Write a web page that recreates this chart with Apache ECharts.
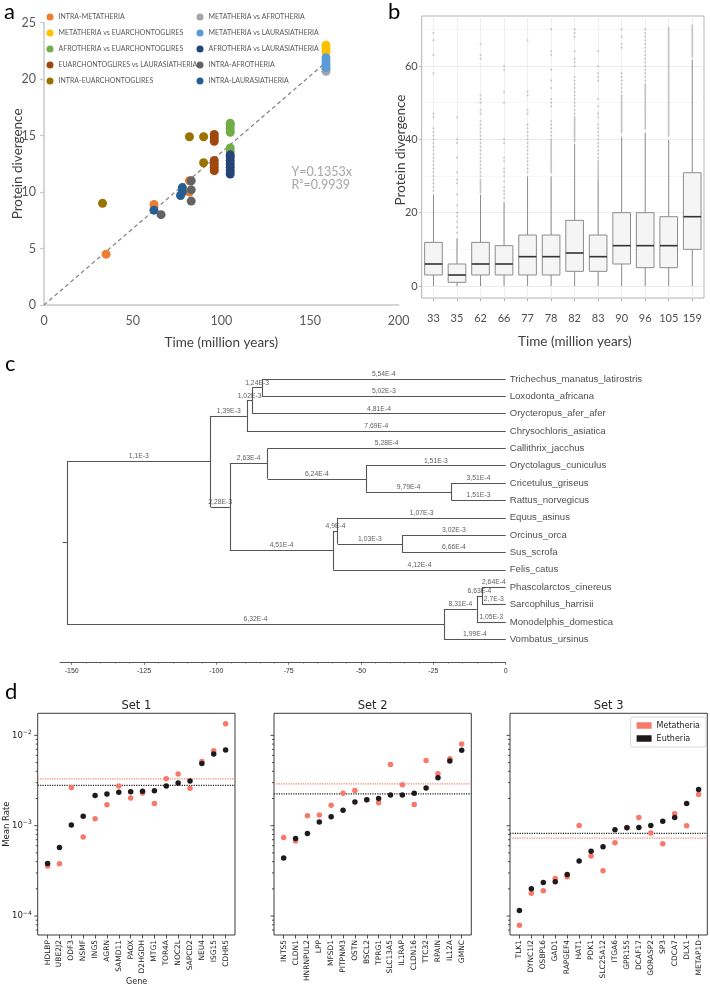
<!DOCTYPE html>
<html><head><meta charset="utf-8">
<script src="https://cdn.jsdelivr.net/npm/echarts@6/dist/echarts.min.js"></script>
<style>html,body{margin:0;padding:0;background:#fff}#c{width:710px;height:986px}</style>
</head><body><div id="c"></div>
<script>
// ================= Panel a data =================
const aNames = ['INTRA-METATHERIA','METATHERIA vs AFROTHERIA','METATHERIA vs EUARCHONTOGLIRES','METATHERIA vs LAURASIATHERIA','AFROTHERIA vs EUARCHONTOGLIRES','AFROTHERIA vs LAURASIATHERIA','EUARCHONTOGLIRES vs LAURASIATHERIA','INTRA-AFROTHERIA','INTRA-EUARCHONTOGLIRES','INTRA-LAURASIATHERIA'];
const aColors = ['#ED7D31','#A5A5A5','#FFC000','#5B9BD5','#70AD47','#264478','#9E480E','#636363','#997300','#255E91'];
const aIntraMetatheria = [[35,4.5],[62,8.9],[82,11.0],[82,10.0]];
const aMetaVsAfro = [[159,20.7],[159,20.9]];
const aMetaVsEuarch = [[159,22.4],[159,22.7],[159,23.0]];
const aMetaVsLaur = [[159,21.0],[159,21.3],[159,21.6],[159,21.9]];
const aAfroVsEuarch = [[105,15.3],[105,15.6],[105,15.9],[105,16.1],[105,13.6],[105,13.9]];
const aAfroVsLaur = [[105,11.6],[105,11.9],[105,12.2],[105,12.5],[105,12.8],[105,13.1],[105,13.3]];
const aEuarchVsLaur = [[96,14.5],[96,14.8],[96,15.1],[96,11.9],[96,12.2],[96,12.5],[96,12.8]];
const aIntraAfro = [[66,8.0],[83,9.2],[83,10.2],[83,11.0]];
const aIntraEuarch = [[33,9.0],[82,14.9],[90,14.9],[90,12.6]];
const aIntraLaur = [[62,8.4],[77,9.7],[78,10.0],[78,10.4]];
const aTrend = [[0,0],[159,21.5]];
const aEquation = 'Y=0.1353x';
const aR2 = 'R²=0.9939';

// ================= Panel b data =================
const bCategories = ['33','35','62','66','77','78','82','83','90','96','105','159'];
const bMin    = [0,0,0,0,0,0,0,0,0,0,0,0];
const bQ1     = [3.0,1.0,3.0,3.0,3.0,3.0,4.0,4.0,6.0,5.0,5.0,10.0];
const bMedian = [6.0,3.0,6.0,6.0,8.0,8.0,9.0,8.0,11.0,11.0,11.0,18.9];
const bQ3     = [11.9,6.0,11.9,11.0,13.9,13.9,17.9,13.9,20.0,20.0,18.9,30.9];
const bMax    = [24.9,13.0,24.9,22.9,29.9,29.9,38.8,28.8,40.7,41.8,39.8,61.7];
const bOut33  = [69,67,63,58,47,46,43,42,41,40,39,38,37,36,35,34,33,32,31,30,29,28,27,26];
const bOut35  = [46,40,39,35,31,29,28,25,22,20,19,17.5,16,14.5];
const bOut62  = [66,63,62,52,51,50,48,47,45,44,43,42,41,40,39,38,37,36,35,34,33,32,31,30,29,28.5,28,27.5,27,26.5,26,25.5];
const bOut66  = [60,59,53,50,40,39,35,34,32,31,30,28.5,27,26,25,24];
const bOut77  = [67,53,52,48,47,44,43,42,41,40,39,38,37,36,35,34,33,32,31];
const bOut78  = [70,64,63,59,56,54,51,50,49,45,44,43,42,41,40,39.5,39,38.5,38,37.5,37,36.5,36,35.5,35,34.5,34,33.5,33,32.5,32,31.5,31];
const bOut82  = [70,69,68,64,62,61,60,57,56,55,54,53,52,51,50,49,48,47,46,45.5,45,44.5,44,43.5,43,42.5,42,41.5,41,40.5,40,39.5];
const bOut83  = [64,60,58,57,56,51,49,47,46,44,43,42,41,40,39,38,37,36,35,34,33.5,33,32.5,32,31.5,31,30.5,30,29.5,29];
const bOut90  = [70,68,66,65,58,57,56,55,54,53,52,51.5,51,50.5,50,49.5,49,48.5,48,47.5,47,46.5,46,45.5,45,44.5,44,43.5,43,42.5,42];
const bOut96  = [70,69,68,67,66,65,64,63,62,61,60,59,58,57,56,55,54.5,54,53.5,53,52.5,52,51.5,51,50.5,50,49.5,49,48.5,48,47.5,47,46.5,46,45.5,45,44.5,44,43.5,43];
const bOut105 = [70.5,70,69.5,69,68.5,68,67.5,67,66.5,66,65.5,65,64.5,64,63.5,63,62.5,62,61.5,61,60.5,60,59.5,59,58.5,58,57.5,57,56.5,56,55.5,55,54.5,54,53.5,53,52.5,52,51.5,51,50.5,50,49.5,49,48.5,48,47.5,47,46.5,46,45.5,45,44.5,44,43.5,43,42.5,42,41.5,41];
const bOut159 = [71,70.5,70,69.5,69,68.5,68,67.5,67,66.5,66,65.5,65,64.5,64,63.5,63,62.5];
const bOutliers = [bOut33,bOut35,bOut62,bOut66,bOut77,bOut78,bOut82,bOut83,bOut90,bOut96,bOut105,bOut159];

// ================= Panel c data (tree) =================
const treeIds = ['root','Eutheria','Afrotheria','AfA','AfB','Trichechus_manatus_latirostris','Loxodonta_africana','Orycteropus_afer_afer','Chrysochloris_asiatica','Boreoeutheria','Euarchontoglires','Callithrix_jacchus','Glires','Oryctolagus_cuniculus','Muridae','Cricetulus_griseus','Rattus_norvegicus','Laurasiatheria','LA','Equus_asinus','Cetartiodactyla','Orcinus_orca','Sus_scrofa','Felis_catus','Marsupialia','MA','MB','Phascolarctos_cinereus','Sarcophilus_harrisii','Monodelphis_domestica','Vombatus_ursinus'];
const treeParents = [null,'root','Eutheria','Afrotheria','AfA','AfB','AfB','AfA','Afrotheria','Eutheria','Boreoeutheria','Euarchontoglires','Euarchontoglires','Glires','Glires','Muridae','Muridae','Boreoeutheria','Laurasiatheria','LA','LA','Cetartiodactyla','Cetartiodactyla','Laurasiatheria','root','Marsupialia','MA','MB','MB','MA','Marsupialia'];
const treeAges = [-151.7,-102.0,-89.5,-87.6,-84.3,0,0,0,0,-95.4,-82.3,0,-48.3,0,-18.8,0,0,-59.6,-58.1,0,-35.8,0,0,0,-21.3,-10.0,-8.2,0,0,0,0];
const treeBranchLabels = ['','1,1E-3','1,39E-3','1,02E-3','1,24E-3','5,54E-4','5,02E-3','4,81E-4','7,69E-4','2,28E-3','2,63E-4','5,28E-4','6,24E-4','1,51E-3','9,79E-4','3,51E-4','1,51E-3','4,51E-4','4,9E-4','1,07E-3','1,03E-3','3,02E-3','6,66E-4','4,12E-4','6,32E-4','8,31E-4','6,63E-4','2,64E-4','2,7E-3','1,05E-3','1,99E-4'];
const treeRootStemAge = -153.2;

// ================= Panel d data =================
const set1Genes = ['HDLBP','UBE2J2','ODF3','NSMF','ING5','AGRN','SAMD11','PAOX','D2HGDH','MTG1','TOR4A','NOC2L','SAPCD2','NEU4','ISG15','CDHR5'];
const set1Eutheria = [3.82e-4,5.74e-4,1.015e-3,1.27e-3,2.16e-3,2.24e-3,2.34e-3,2.38e-3,2.40e-3,2.44e-3,2.75e-3,2.96e-3,3.12e-3,4.89e-3,6.21e-3,6.88e-3];
const set1Metatheria = [3.57e-4,3.79e-4,2.65e-3,7.48e-4,1.19e-3,1.71e-3,2.75e-3,2.02e-3,2.30e-3,1.76e-3,3.31e-3,3.73e-3,2.59e-3,5.15e-3,6.76e-3,1.345e-2];
const set1Means = {Metatheria:3.30e-3, Eutheria:2.79e-3};
const set2Genes = ['INTS5','CLDN1','HNRNPUL2','LPP','MFSD1','PITPNM3','OSTN','BSCL2','TPRG1','SLC13A5','IL1RAP','CLDN16','TTC32','RPAIN','IL12A','GMNC'];
const set2Eutheria = [4.38e-4,7.23e-4,8.21e-4,1.10e-3,1.26e-3,1.48e-3,1.83e-3,1.94e-3,2.00e-3,2.18e-3,2.18e-3,2.28e-3,2.61e-3,3.40e-3,5.19e-3,6.82e-3];
const set2Metatheria = [7.42e-4,6.75e-4,1.29e-3,1.31e-3,1.68e-3,2.28e-3,2.46e-3,1.94e-3,1.80e-3,4.77e-3,2.84e-3,1.72e-3,5.28e-3,3.76e-3,5.51e-3,8.01e-3];
const set2Means = {Metatheria:2.91e-3, Eutheria:2.25e-3};
const set3Genes = ['TLK1','DYNC1I2','OSBPL6','GAD1','RAPGEF4','HAT1','PDK1','SLC25A12','ITGA6','GPR155','DCAF17','GORASP2','SP3','CDCA7','DLX1','METAP1D'];
const set3Eutheria = [1.15e-4,2.00e-4,2.35e-4,2.39e-4,2.89e-4,4.06e-4,5.23e-4,5.84e-4,9.01e-4,9.49e-4,9.57e-4,1.007e-3,1.12e-3,1.235e-3,1.76e-3,2.52e-3];
const set3Metatheria = [7.93e-5,1.79e-4,1.90e-4,2.61e-4,2.72e-4,1.007e-3,4.61e-4,3.17e-4,6.47e-4,9.57e-4,1.235e-3,8.28e-4,6.31e-4,1.355e-3,9.98e-4,2.22e-3];
const set3Means = {Metatheria:7.29e-4, Eutheria:8.22e-4};
const dMajorTicks = [1e-4,1e-3,1e-2];
const dMinorTicks = [7e-5,8e-5,9e-5,2e-4,3e-4,4e-4,5e-4,6e-4,7e-4,8e-4,9e-4,2e-3,3e-3,4e-3,5e-3,6e-3,7e-3,8e-3,9e-3];

// ================= build =================
const chart = echarts.init(document.getElementById('c'), null, {renderer:'canvas', width:710, height:986});
const FA = 'Lato';
const FD = 'DejaVu Sans';
const FT = 'Liberation Sans';
const hidden = {show:false};

const grids = [
  {left:44, top:22.7, width:354.7, height:282.3},                                   // 0 panel a
  {left:421.7, top:16, width:282.3, height:282, show:true, borderColor:'#b3b3b3', borderWidth:1, backgroundColor:'transparent'}, // 1 b frame
  {left:433.46, top:16, width:258.78, height:282},                                  // 2 b vertical grid + labels
  {left:421.7, top:-7.36, width:282.3, height:293.36},                              // 3 b data
  {left:60, top:361.65, width:445.7, height:300.65},                                // 4 tree
  {left:71.7, top:361.65, width:434, height:300.65},                                // 5 tree axis labels
  {left:37.7, top:713.3, width:197.3, height:221.7, show:true, borderColor:'#262626', borderWidth:0.9, backgroundColor:'transparent'}, // 6
  {left:274, top:713.3, width:197.3, height:221.7, show:true, borderColor:'#262626', borderWidth:0.9, backgroundColor:'transparent'},   // 7
  {left:510, top:713.3, width:197.3, height:221.7, show:true, borderColor:'#262626', borderWidth:0.9, backgroundColor:'transparent'},   // 8
  {left:47.6, top:713.3, width:178, height:221.7},                                  // 9
  {left:283.7, top:713.3, width:178, height:221.7},                                 // 10
  {left:519.4, top:713.3, width:179.2, height:221.7}                                // 11
].map(g => Object.assign({containLabel:false, outerBoundsMode:'none'}, g));

const dYMin = 6.17e-5, dYMax = 1.754e-2;
const setGenes = [set1Genes, set2Genes, set3Genes];
const setEu = [set1Eutheria, set2Eutheria, set3Eutheria];
const setMe = [set1Metatheria, set2Metatheria, set3Metatheria];
const setMeans = [set1Means, set2Means, set3Means];

const xAxes = [
  {gridIndex:0, type:'value', min:0, max:200, interval:50,
   axisLine:{show:true, onZero:false, lineStyle:{color:'#c8c8c8', width:1.5}}, axisTick:{show:false},
   axisLabel:{fontFamily:FA, fontSize:12.5, color:'#595959', margin:9}, splitLine:hidden,
   name:'Time (million years)', nameLocation:'middle', nameGap:31, nameMoveOverlap:false,
   nameTextStyle:{fontFamily:FA, fontSize:13.5, color:'#404040'}},
  {gridIndex:1, type:'value', min:0, max:1, show:false},
  {gridIndex:2, type:'category', data:bCategories, boundaryGap:false,
   axisLine:{show:false, onZero:false}, axisTick:{show:true, length:3, lineStyle:{color:'#b3b3b3'}},
   axisLabel:{fontFamily:FA, fontSize:11, color:'#4d4d4d', margin:15, interval:0},
   splitLine:{show:true, interval:0, lineStyle:{color:'#ebebeb', width:0.8}},
   name:'Time (million years)', nameLocation:'middle', nameGap:37, nameMoveOverlap:false,
   nameTextStyle:{fontFamily:FA, fontSize:13.5, color:'#404040', padding:[0,0,0,24]}},
  {gridIndex:3, type:'category', data:bCategories, boundaryGap:true, show:false},
  {gridIndex:4, type:'value', min:-154.1, max:0, axisLine:{show:true, onZero:false, lineStyle:{color:'#555', width:1}},
   axisTick:{show:false}, axisLabel:{show:false}, splitLine:hidden},
  {gridIndex:5, type:'value', min:-150, max:0, interval:25, axisLine:{show:false, onZero:false},
   axisTick:{show:true, length:2.5, inside:false, lineStyle:{color:'#555', width:0.8}},
   minorTick:{show:true, splitNumber:5, length:1.5, lineStyle:{color:'#777', width:0.6}},
   axisLabel:{fontFamily:FT, fontSize:7, color:'#333', margin:5}, splitLine:hidden}
];
const yAxes = [
  {gridIndex:0, type:'value', min:0, max:25, interval:5,
   axisLine:{show:true, onZero:false, lineStyle:{color:'#c8c8c8', width:1.5}}, axisTick:{show:true, length:4, lineStyle:{color:'#c8c8c8', width:1.2}},
   axisLabel:{fontFamily:FA, fontSize:12.5, color:'#595959', margin:8}, splitLine:hidden,
   name:'Protein divergence', nameLocation:'middle', nameGap:19, nameMoveOverlap:false,
   nameTextStyle:{fontFamily:FA, fontSize:13.5, color:'#404040'}},
  {gridIndex:1, type:'value', min:0, max:1, show:false},
  {gridIndex:2, type:'value', min:0, max:1, show:false},
  {gridIndex:3, type:'value', min:0, max:80, interval:20,
   axisLine:{show:false, onZero:false}, axisTick:{show:true, length:2.5, lineStyle:{color:'#b3b3b3'}},
   axisLabel:{fontFamily:FA, fontSize:11, color:'#4d4d4d', margin:4, formatter: v => (v <= 60 ? String(v) : '')},
   splitLine:{show:true, lineStyle:{color:'#e6e6e6', width:0.8}},
   minorTick:{show:false, splitNumber:2},
   minorSplitLine:{show:true, lineStyle:{color:'#f0f0f0', width:0.6}}},
  {gridIndex:4, type:'value', inverse:true, min:-1, max:16.33, show:false},
  {gridIndex:5, type:'value', inverse:true, min:-1, max:16.33, show:false}
];

const logLabel = v => {
  const e = Math.log10(v), r = Math.round(e);
  return Math.abs(e - r) < 1e-6 ? '{b|10}{s|\u2212' + (-r) + '}' : '';
};
for (let k = 0; k < 3; k++) {
  xAxes.push({gridIndex:6+k, type:'value', min:0, max:1, show:false});
  yAxes.push({gridIndex:6+k, type:'log', logBase:10, min:dYMin, max:dYMax,
    axisLine:{show:false}, axisTick:{show:false}, splitLine:hidden, minorTick:{show:false},
    axisLabel:{show:k===0, margin:6, formatter:logLabel,
      rich:{b:{fontFamily:FD, fontSize:8.5, color:'#222'}, s:{fontFamily:FD, fontSize:6, color:'#222', padding:[0,0,6,0]}}},
    name: k===0 ? 'Mean Rate' : '', nameLocation:'middle', nameGap:26, nameMoveOverlap:false,
    nameTextStyle:{fontFamily:FD, fontSize:8.5, color:'#222'}});
}
for (let k = 0; k < 3; k++) {
  xAxes.push({gridIndex:9+k, type:'category', data:setGenes[k], boundaryGap:false,
    axisLine:{show:false, onZero:false}, axisTick:{show:true, length:3.5, interval:0, lineStyle:{color:'#222', width:0.8}},
    axisLabel:{rotate:90, interval:0, fontFamily:FD, fontSize:7.5, color:'#222', margin:5},
    splitLine:hidden,
    name: k===0 ? 'Gene' : '', nameLocation:'middle', nameGap:43, nameMoveOverlap:false,
    nameTextStyle:{fontFamily:FD, fontSize:8, color:'#222'}});
  yAxes.push({gridIndex:9+k, type:'log', logBase:10, min:dYMin, max:dYMax, show:false});
}

const series = [];
// ---- panel a ----
series.push({type:'line', xAxisIndex:0, yAxisIndex:0, data:aTrend, showSymbol:false, silent:true, z:1,
  lineStyle:{color:'#808080', width:1.2, type:[4,3]}});
const aData = [aIntraMetatheria,aMetaVsAfro,aMetaVsEuarch,aMetaVsLaur,aAfroVsEuarch,aAfroVsLaur,aEuarchVsLaur,aIntraAfro,aIntraEuarch,aIntraLaur];
aNames.forEach((n,i) => series.push({type:'scatter', name:n, xAxisIndex:0, yAxisIndex:0, data:aData[i],
  symbol:'circle', symbolSize:9, itemStyle:{color:aColors[i], opacity:1}, z:3}));

// ---- panel b ----
series.push({type:'custom', xAxisIndex:3, yAxisIndex:3, silent:true, z:2,
  data: bCategories.map((c,i) => [i, bMin[i], bQ1[i], bMedian[i], bQ3[i], bMax[i]]),
  encode:{x:0, y:[1,2,3,4,5]},
  renderItem:(params, api) => {
    const x = api.value(0);
    const pMin = api.coord([x, api.value(1)]), pQ1 = api.coord([x, api.value(2)]);
    const pMed = api.coord([x, api.value(3)]), pQ3 = api.coord([x, api.value(4)]);
    const pMax = api.coord([x, api.value(5)]);
    const w = api.size([1, 0])[0] * 0.75;
    const ws = {stroke:'#8c8c8c', lineWidth:1};
    return {type:'group', children:[
      {type:'line', shape:{x1:pMin[0], y1:pMin[1], x2:pQ1[0], y2:pQ1[1]}, style:ws},
      {type:'line', shape:{x1:pQ3[0], y1:pQ3[1], x2:pMax[0], y2:pMax[1]}, style:ws},
      {type:'rect', shape:{x:pQ1[0]-w/2, y:pQ3[1], width:w, height:pQ1[1]-pQ3[1]}, style:{fill:'#f5f5f5', stroke:'#8c8c8c', lineWidth:1}},
      {type:'line', shape:{x1:pMed[0]-w/2, y1:pMed[1], x2:pMed[0]+w/2, y2:pMed[1]}, style:{stroke:'#333', lineWidth:1.6}}
    ]};
  }});
const bOutData = [];
bOutliers.forEach((arr,i) => arr.forEach(v => bOutData.push([i, v])));
series.push({type:'scatter', xAxisIndex:3, yAxisIndex:3, data:bOutData, symbolSize:2.2, silent:true, z:3, clip:false,
  itemStyle:{color:'rgba(70,70,70,0.3)'}});

// ---- panel c (tree) ----
const kids = {}, ageOf = {}, labelOf = {}, parentOf = {};
treeIds.forEach((id,i) => {
  ageOf[id] = treeAges[i]; labelOf[id] = treeBranchLabels[i]; parentOf[id] = treeParents[i];
  if (treeParents[i] !== null) (kids[treeParents[i]] = kids[treeParents[i]] || []).push(id);
});
const yOf = {}; let tipCount = 0; const tipList = [];
function place(id) {
  const ch = kids[id];
  if (!ch) { yOf[id] = tipCount++; tipList.push(id); return yOf[id]; }
  const ys = ch.map(place);
  yOf[id] = (Math.min(...ys) + Math.max(...ys)) / 2;
  return yOf[id];
}
place('root');
const segs = [];
const brLabels = [];
segs.push({coords:[[treeRootStemAge, yOf.root],[ageOf.root, yOf.root]]});
treeIds.forEach(id => {
  const p = parentOf[id];
  if (p !== null) {
    segs.push({coords:[[ageOf[p], yOf[id]],[ageOf[id], yOf[id]]]});
    brLabels.push({name:labelOf[id], value:[(ageOf[p]+ageOf[id])/2, yOf[id]]});
  }
  if (kids[id]) {
    const ys = kids[id].map(c => yOf[c]);
    segs.push({coords:[[ageOf[id], Math.min(...ys)],[ageOf[id], Math.max(...ys)]]});
  }
});
series.push({type:'lines', coordinateSystem:'cartesian2d', xAxisIndex:4, yAxisIndex:4, polyline:false, silent:true, clip:false,
  data:segs, lineStyle:{color:'#555', width:1.1, opacity:1}, z:2});
series.push({type:'scatter', xAxisIndex:4, yAxisIndex:4, data:brLabels, symbolSize:0, silent:true, clip:false,
  label:{show:true, position:'top', distance:1.5, formatter:'{b}', fontFamily:FT, fontSize:6.8, color:'#333'}, z:4});
series.push({type:'scatter', xAxisIndex:4, yAxisIndex:4, data:tipList.map(t => ({name:t, value:[ageOf[t], yOf[t]]})),
  symbolSize:0, silent:true, clip:false,
  label:{show:true, position:'right', distance:4, formatter:'{b}', fontFamily:FT, fontSize:9.6, color:'#1a1a1a'}, z:4});

// ---- panel d ----
for (let k = 0; k < 3; k++) {
  series.push({type:'line', xAxisIndex:6+k, yAxisIndex:6+k, data:[[0,setMeans[k].Metatheria],[1,setMeans[k].Metatheria]],
    showSymbol:false, silent:true, z:2, lineStyle:{color:'#f08070', width:1.2, type:'dotted'}});
  series.push({type:'line', xAxisIndex:6+k, yAxisIndex:6+k, data:[[0,setMeans[k].Eutheria],[1,setMeans[k].Eutheria]],
    showSymbol:false, silent:true, z:2, lineStyle:{color:'#222', width:1.2, type:'dotted'}});
  const tickData = dMajorTicks.map(v => [0, v, 3.5]).concat(dMinorTicks.map(v => [0, v, 2]));
  series.push({type:'custom', xAxisIndex:6+k, yAxisIndex:6+k, data:tickData, silent:true, clip:false, z:2,
    encode:{x:0, y:1},
    renderItem:(params, api) => {
      const p = api.coord([0, api.value(1)]);
      return {type:'line', shape:{x1:p[0]-api.value(2), y1:p[1], x2:p[0], y2:p[1]}, style:{stroke:'#222', lineWidth:0.8}};
    }});
  series.push({type:'scatter', name:'Metatheria', xAxisIndex:9+k, yAxisIndex:9+k, data:setMe[k], symbolSize:5.5,
    itemStyle:{color:'#f8796b', opacity:1}, z:3, clip:false});
  series.push({type:'scatter', name:'Eutheria', xAxisIndex:9+k, yAxisIndex:9+k, data:setEu[k], symbolSize:5.5,
    itemStyle:{color:'#1e1a1b', opacity:1}, z:4, clip:false});
}

const legendText = {fontFamily:FA, fontSize:7, color:'#595959', lineHeight:9};
const legends = [
  {data:[0,2,4,6,8].map(i => aNames[i]), orient:'vertical', left:46.5, top:12.5, itemGap:7, itemWidth:7, itemHeight:7,
   icon:'circle', padding:0, textStyle:legendText, selectedMode:false},
  {data:[1,3,5,7,9].map(i => aNames[i]), orient:'vertical', left:196.5, top:12.5, itemGap:7, itemWidth:7, itemHeight:7,
   icon:'circle', padding:0, textStyle:legendText, selectedMode:false},
  {data:['Metatheria','Eutheria'], orient:'vertical', right:4, top:717, itemGap:4, itemWidth:15, itemHeight:6.5,
   icon:'rect', padding:[4,6,4,6], borderColor:'#cccccc', borderWidth:0.8, borderRadius:2, backgroundColor:'#fff',
   textStyle:{fontFamily:FD, fontSize:8, color:'#222', lineHeight:9}, selectedMode:false}
];

const txt = (text, x, y, size, font, color, align) => ({type:'text', x, y, silent:true,
  style:{text, fontSize:size, fontFamily:font, fill:color, align:align || 'left', verticalAlign:'middle'}});
const bYName = txt('Protein divergence', 401, 150, 13.5, FA, '#404040', 'center');
bYName.rotation = Math.PI / 2;
const graphics = [
  txt('a', 4, 12, 22, FA, '#000'),
  txt('b', 388, 12, 22, FA, '#000'),
  txt('c', 5, 364, 22, FA, '#000'),
  txt('d', 5, 692, 22, FA, '#000'),
  txt(aEquation, 291.5, 172, 12.5, FA, '#a6a6a6'),
  txt(aR2, 291.5, 184.5, 12.5, FA, '#a6a6a6'),
  bYName,
  txt('Set 1', 136.35, 706.5, 11.5, FD, '#262626', 'center'),
  txt('Set 2', 372.65, 706.5, 11.5, FD, '#262626', 'center'),
  txt('Set 3', 608.65, 706.5, 11.5, FD, '#262626', 'center')
];

chart.setOption({
  animation:false,
  backgroundColor:'#fff',
  grid:grids, xAxis:xAxes, yAxis:yAxes, series, legend:legends,
  graphic:{elements:graphics}
});
</script></body></html>
